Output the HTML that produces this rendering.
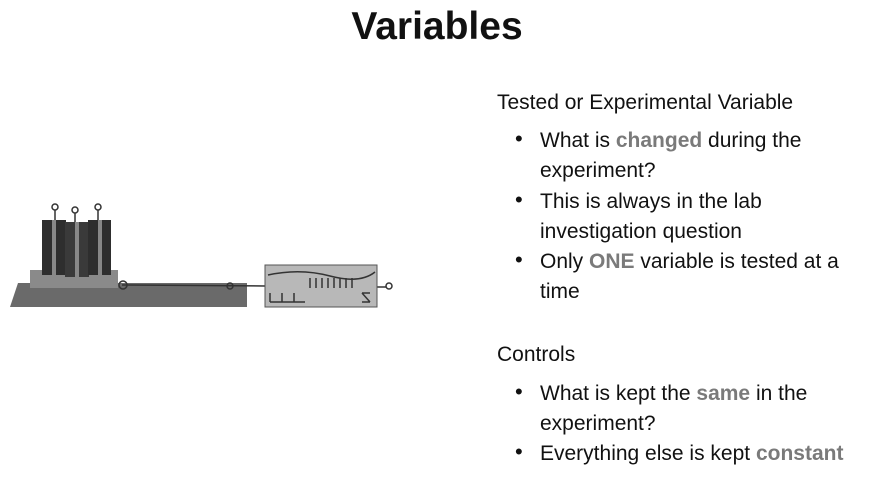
<!DOCTYPE html>
<html><head><style>
body{margin:0;width:890px;height:477px;background:#fff;position:relative;overflow:hidden;font-family:"Liberation Sans",sans-serif;color:#111}
.t{position:absolute;white-space:nowrap;font-size:21px;line-height:24px}
.b{position:absolute;font-size:22px;line-height:24px}
.g{color:#7a7a7a;font-weight:bold}
h1{position:absolute;left:0;width:874px;top:5px;margin:0;text-align:center;font-size:39px;font-weight:bold;color:#111}
</style></head><body>
<h1>Variables</h1>
<div class="t" style="left:497px;top:91px">Tested or Experimental Variable</div>
<div class="b" style="left:515px;top:127px">•</div><div class="t" style="left:540px;top:129px">What is <span class="g">changed</span> during the</div>
<div class="t" style="left:540px;top:159px">experiment?</div>
<div class="b" style="left:515px;top:188px">•</div><div class="t" style="left:540px;top:190px">This is always in the lab</div>
<div class="t" style="left:540px;top:220px">investigation question</div>
<div class="b" style="left:515px;top:248px">•</div><div class="t" style="left:540px;top:250px">Only <span class="g">ONE</span> variable is tested at a</div>
<div class="t" style="left:540px;top:280px">time</div>
<div class="t" style="left:497px;top:343px">Controls</div>
<div class="b" style="left:515px;top:380px">•</div><div class="t" style="left:540px;top:382px">What is kept the <span class="g">same</span> in the</div>
<div class="t" style="left:540px;top:412px">experiment?</div>
<div class="b" style="left:515px;top:440px">•</div><div class="t" style="left:540px;top:442px">Everything else is kept <span class="g">constant</span></div>
<svg style="position:absolute;left:0;top:0" width="890" height="477">
<polygon points="18,283 247,283 247,307 10,307" fill="#6a6a6a"/>
<rect x="30" y="270" width="88" height="18" fill="#8a8a8a"/>
<rect x="42" y="220" width="24" height="55" fill="#2e2e2e"/>
<rect x="65" y="222" width="24" height="55" fill="#3a3a3a"/>
<rect x="88" y="220" width="23" height="55" fill="#2e2e2e"/>
<rect x="52" y="220" width="4" height="55" fill="#888"/>
<rect x="75" y="222" width="4" height="55" fill="#888"/>
<rect x="98" y="220" width="4" height="55" fill="#888"/>
<g fill="none" stroke="#333" stroke-width="1.5">
<circle cx="55" cy="207" r="3"/><circle cx="75" cy="210" r="3"/><circle cx="98" cy="207" r="3"/>
<line x1="55" y1="210" x2="55" y2="220"/><line x1="75" y1="213" x2="75" y2="222"/><line x1="98" y1="210" x2="98" y2="220"/>
<line x1="122" y1="285" x2="265" y2="286"/><circle cx="123" cy="285" r="4"/><circle cx="230" cy="286" r="3"/>
<line x1="377" y1="287" x2="386" y2="287"/><circle cx="389" cy="286" r="3"/>
</g>
<rect x="265" y="265" width="112" height="42" fill="#b8b8b8" stroke="#555"/>
<g stroke="#333" stroke-width="1.5" fill="none">
<path d="M268 275 Q300 268 330 276 T375 272"/>
<path d="M310 288 V278 M316 288 V278 M322 288 V278 M328 288 V278 M334 288 V278 M340 288 V278 M346 288 V278 M352 288 V278"/>
<path d="M270 302 H305 M270 293 V302 M282 293 V302 M294 293 V302"/>
<path d="M362 293 L370 302 M362 302 H370 M362 293 H370"/>
</g>
</svg>
</body></html>
